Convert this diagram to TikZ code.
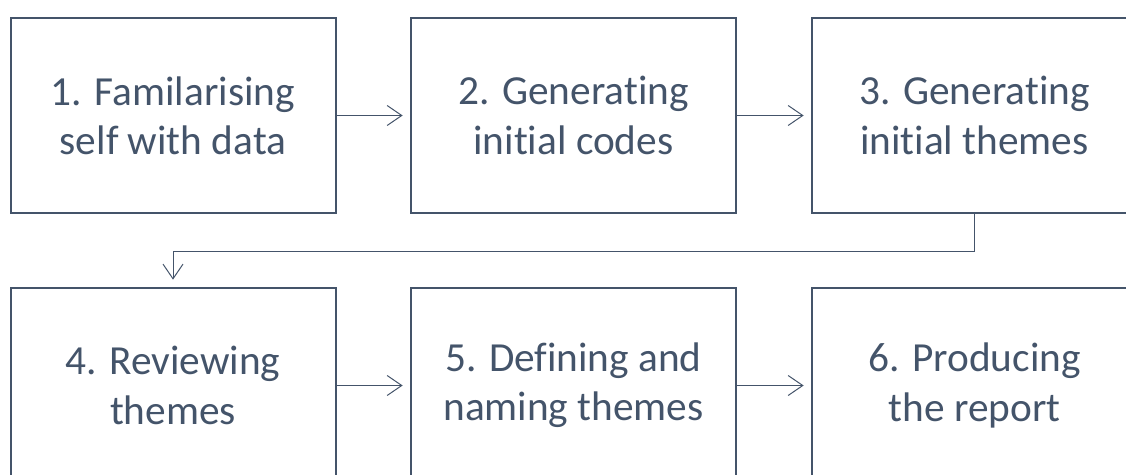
\documentclass[tikz,border=0pt]{standalone}
\usepackage{fontspec}
\setmainfont{Carlito}[Ligatures=NoCommon]
\usetikzlibrary{arrows.meta}
\definecolor{slate}{HTML}{44546A}
\begin{document}
\begin{tikzpicture}[x=0.75pt, y=-0.75pt,
  stepbox/.style={draw=slate, line width=1.5pt, rectangle,
    minimum width=243.75pt, minimum height=146.25pt,
    text=slate, align=center, font=\fontsize{31}{37}\selectfont, inner sep=0pt},
  conn/.style={draw=slate, line width=0.75pt,
    -{Straight Barb[length=11pt,width=15pt,line width=0.75pt]}, shorten >=5.5pt}]
  \useasboundingbox (0,0) rectangle (1126,474);
  \clip (0,0) rectangle (1126,474);
  % first row
  \node[stepbox] (b1) at (173,115.5) {1. Familarising\\self with data};
  \node[stepbox] (b2) at (573.5,115.5) {2. Generating\\initial codes};
  \node[stepbox] (b3) at (974.5,115.5) {3. Generating\\initial themes};
  % second row
  \node[stepbox] (b4) at (173,385.5) {4. Reviewing\\themes};
  \node[stepbox] (b5) at (573.5,385.5) {5. Defining and\\naming themes};
  \node[stepbox] (b6) at (974.5,385.5) {6. Producing\\the report};
  % connectors
  \draw[conn] (b1.east) -- (b2.west);
  \draw[conn] (b2.east) -- (b3.west);
  \draw[conn] (b3.south) -- ++(0,37) -| (b4.north);
  \draw[conn] (b4.east) -- (b5.west);
  \draw[conn] (b5.east) -- (b6.west);
\end{tikzpicture}
\end{document}
